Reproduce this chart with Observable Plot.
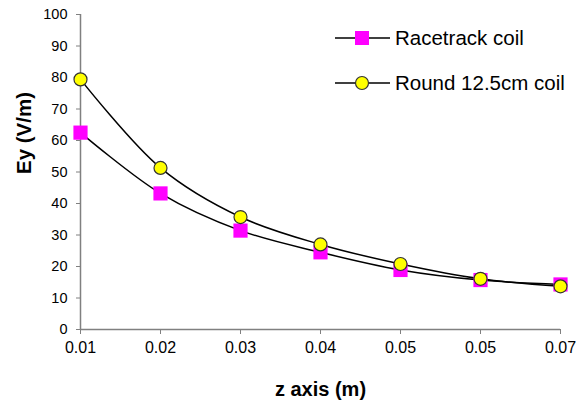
<!DOCTYPE html>
<html>
<head>
<meta charset="utf-8">
<script src="https://cdn.jsdelivr.net/npm/d3@7"></script>
<script src="https://cdn.jsdelivr.net/npm/@observablehq/plot@0.6"></script>
<style>
  body { margin: 0; background: #fff; }
  #wrap { position: relative; width: 577px; height: 405px; font-family: "Liberation Sans", Arial, sans-serif; }
  #legend { position: absolute; left: 0; top: 0; pointer-events: none; }
</style>
</head>
<body>
<div id="wrap"></div>
<script>
const zValues = [0.01, 0.02, 0.03, 0.04, 0.05, 0.06, 0.07];
const zLabels = ["0.01", "0.02", "0.03", "0.04", "0.05", "0.05", "0.07"];
const racetrack = [62.5, 43.2, 31.4, 24.5, 18.9, 15.7, 14.3];
const round125 = [79.4, 51.3, 35.7, 27.0, 20.8, 16.1, 13.7];
const seriesNames = ["Racetrack coil", "Round 12.5cm coil"];
const yTicks = [0, 10, 20, 30, 40, 50, 60, 70, 80, 90, 100];

const rt = zValues.map((z, i) => ({z, v: racetrack[i]}));
const rd = zValues.map((z, i) => ({z, v: round125[i]}));

const chart = Plot.plot({
  width: 577,
  height: 405,
  marginLeft: 80,
  marginRight: 17,
  marginTop: 14,
  marginBottom: 76,
  style: {fontFamily: "'Liberation Sans', Arial, sans-serif", background: "#fff"},
  x: {domain: [0.01, 0.07]},
  y: {domain: [0, 100]},
  marks: [
    Plot.axisY({ticks: yTicks, tickSize: 4, tickPadding: 9, fontSize: 14.5, stroke: "#808080", color: "#000", label: null}),
    Plot.axisX({ticks: zValues, tickFormat: (d, i) => zLabels[i], tickSize: 5, tickPadding: 7, fontSize: 16, stroke: "#808080", label: null}),
    Plot.ruleX([0.01], {stroke: "#808080", strokeWidth: 1.5}),
    Plot.ruleY([0], {stroke: "#808080", strokeWidth: 1.5}),
    Plot.line(rt, {x: "z", y: "v", curve: "catmull-rom", stroke: "#000", strokeWidth: 1.5}),
    Plot.line(rd, {x: "z", y: "v", curve: "catmull-rom", stroke: "#000", strokeWidth: 1.5}),
    Plot.dot(rt, {x: "z", y: "v", symbol: "square", r: 8, fill: "#ff00ff", stroke: "none"}),
    Plot.dot(rd, {x: "z", y: "v", symbol: "circle", r: 6.5, fill: "#ffff00", stroke: "#333", strokeWidth: 1.2}),
    Plot.text(["Ey (V/m)"], {frameAnchor: "left", dx: -56, dy: 2, rotate: -90, fontSize: 20.5, fontWeight: "bold", fill: "#000"}),
    Plot.text(["z axis (m)"], {frameAnchor: "bottom", dy: 66, fontSize: 20, fontWeight: "bold", fill: "#000"})
  ]
});
document.getElementById("wrap").appendChild(chart);

// legend overlay
const svg = d3.select("#wrap").append("svg")
  .attr("id", "legend").attr("width", 577).attr("height", 405);
const rows = [
  {name: seriesNames[0], y: 38, type: "square"},
  {name: seriesNames[1], y: 83, type: "circle"}
];
rows.forEach(r => {
  const g = svg.append("g");
  g.append("line").attr("x1", 335).attr("x2", 390).attr("y1", r.y).attr("y2", r.y)
    .attr("stroke", "#000").attr("stroke-width", 1.5);
  if (r.type === "square") {
    g.append("rect").attr("x", 362 - 7).attr("y", r.y - 7).attr("width", 14).attr("height", 14).attr("fill", "#ff00ff");
  } else {
    g.append("circle").attr("cx", 362).attr("cy", r.y).attr("r", 6.5).attr("fill", "#ffff00").attr("stroke", "#333").attr("stroke-width", 1.2);
  }
  g.append("text").attr("x", 395).attr("y", r.y).attr("dy", "0.35em")
    .attr("font-size", 20.5).attr("font-family", "'Liberation Sans', Arial, sans-serif").attr("fill", "#000").text(r.name);
});
</script>
</body>
</html>
